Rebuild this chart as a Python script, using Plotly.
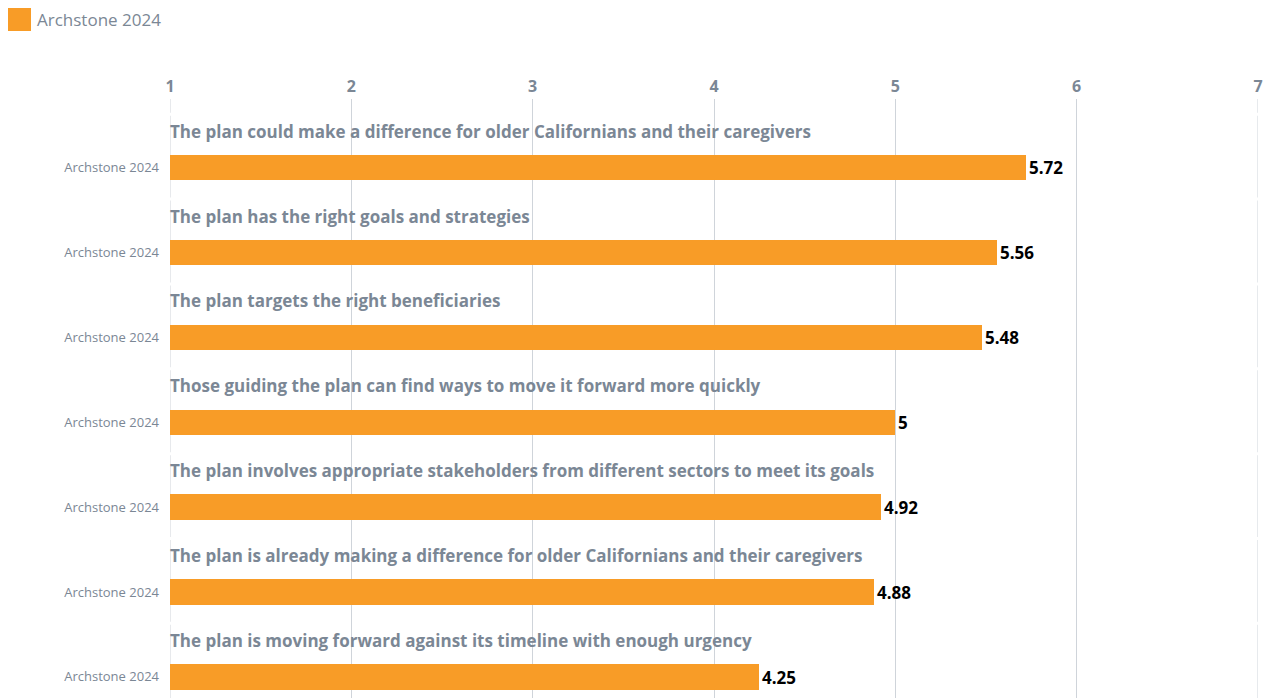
import plotly.graph_objects as go

statements = [
    "The plan could make a difference for older Californians and their caregivers",
    "The plan has the right goals and strategies",
    "The plan targets the right beneficiaries",
    "Those guiding the plan can find ways to move it forward more quickly",
    "The plan involves appropriate stakeholders from different sectors to meet its goals",
    "The plan is already making a difference for older Californians and their caregivers",
    "The plan is moving forward against its timeline with enough urgency",
]
scores = [5.72, 5.56, 5.48, 5, 4.92, 4.88, 4.25]
series_name = "Archstone 2024"
x_ticks = [1, 2, 3, 4, 5, 6, 7]

BAR = "#f89c27"
GREY = "#7b8795"
GRID = "#cfd4da"
FONT = "Open Sans"

rows = list(range(len(statements)))

fig = go.Figure()
fig.add_trace(go.Bar(
    orientation="h",
    x=scores,
    y=rows,
    base=0,
    width=0.3,
    marker=dict(color=BAR, line=dict(width=0)),
    text=[f"{v:g}" for v in scores],
    textposition="outside",
    textfont=dict(family=FONT, size=17, color="#000000", weight="bold"),
    cliponaxis=False,
    name=series_name,
    showlegend=False,
))

# statement titles above each bar
for r, s in zip(rows, statements):
    fig.add_annotation(
        x=1, y=r - 0.43, xref="x", yref="y", xshift=-2,
        text=f"<b>{s}</b>", showarrow=False,
        xanchor="left", yanchor="middle",
        font=dict(family=FONT, size=17, color=GREY),
    )

# gridlines at both ends of the scale (plotly skips grid at the range edges)
for edge in (x_ticks[0], x_ticks[-1]):
    fig.add_shape(
        type="line", xref="x", yref="paper",
        x0=edge, x1=edge, y0=0, y1=1,
        line=dict(color=GRID, width=1), layer="between",
    )

# small breaks in the gridlines between rows
for r in rows:
    fig.add_shape(
        type="line", xref="paper", yref="y",
        x0=0, x1=1, y0=r - 0.63, y1=r - 0.63,
        line=dict(color="white", width=3), layer="between",
    )

# legend swatch and label
fig.add_shape(type="rect", xref="paper", yref="paper",
              x0=-162 / 1088, x1=-139 / 1088,
              y0=1 + 68 / 599, y1=1 + 91 / 599,
              fillcolor=BAR, line=dict(width=0))
fig.add_annotation(x=-135 / 1088, y=1 + 80 / 599, xref="paper", yref="paper",
                   text=series_name, showarrow=False, xanchor="left", yanchor="middle",
                   font=dict(family=FONT, size=17, color=GREY))

fig.update_layout(
    width=1267, height=698,
    margin=dict(l=170, r=9, t=99, b=0),
    paper_bgcolor="white", plot_bgcolor="white",
    bargap=0,
    xaxis=dict(
        side="top", range=[1, 7], tickvals=x_ticks,
        showgrid=True, gridcolor=GRID, gridwidth=1, zeroline=False,
        showline=False, ticks="", ticklabelstandoff=3,
        tickfont=dict(family=FONT, size=16, color=GREY, weight="bold"),
    ),
    yaxis=dict(
        range=[6.25, -0.81], tickvals=rows, ticktext=[series_name] * len(rows),
        showgrid=False, zeroline=False, ticks="", ticklabelstandoff=10,
        tickfont=dict(family=FONT, size=13, color=GREY),
    ),
    font=dict(family=FONT),
)

fig.write_html("out.html")
